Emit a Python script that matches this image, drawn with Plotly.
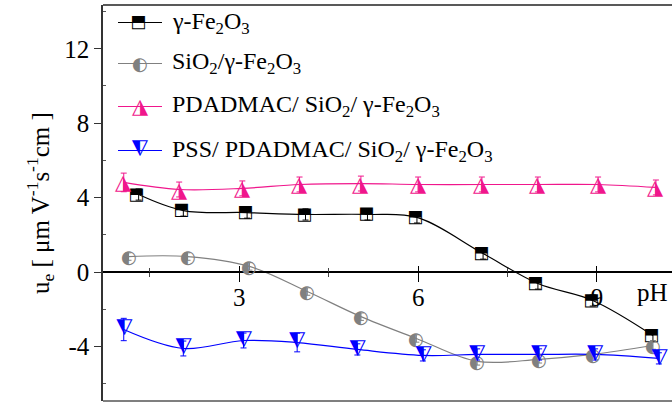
import plotly.graph_objects as go

# ---------------- data ----------------
series_names = ["γ-Fe<sub>2</sub>O<sub>3</sub>",
                "SiO<sub>2</sub>/γ-Fe<sub>2</sub>O<sub>3</sub>",
                "PDADMAC/ SiO<sub>2</sub>/ γ-Fe<sub>2</sub>O<sub>3</sub>",
                "PSS/ PDADMAC/ SiO<sub>2</sub>/ γ-Fe<sub>2</sub>O<sub>3</sub>"]

ph_fe = [1.31, 2.06, 3.13, 4.11, 5.15, 5.98, 7.09, 8.01, 8.93, 9.94]
ue_fe = [4.17, 3.31, 3.20, 3.10, 3.10, 2.94, 1.00, -0.61, -1.52, -3.40]
err_fe = [0.3, 0.3, 0.3, 0.3, 0.3, 0.3, 0.3, 0.3, 0.3, 0.3]

ph_si = [1.14, 2.13, 3.17, 4.14, 5.04, 5.97, 6.99, 8.03, 8.93, 9.94]
ue_si = [0.84, 0.84, 0.31, -1.04, -2.39, -3.56, -4.79, -4.68, -4.42, -3.94]
err_si = [0.2, 0.2, 0.2, 0.2, 0.2, 0.2, 0.2, 0.2, 0.2, 0.2]

ph_pd = [1.06, 1.99, 3.05, 4.01, 5.04, 6.00, 7.07, 8.01, 9.02, 9.99]
ue_pd = [4.82, 4.44, 4.50, 4.71, 4.76, 4.71, 4.71, 4.71, 4.71, 4.55]
err_pd = [0.5, 0.4, 0.4, 0.4, 0.4, 0.4, 0.4, 0.4, 0.4, 0.4]

ph_ps = [1.06, 2.06, 3.07, 3.97, 4.98, 6.08, 6.99, 8.03, 8.97, 10.04]
ue_ps = [-3.08, -4.10, -3.67, -3.78, -4.15, -4.47, -4.42, -4.42, -4.42, -4.63]
err_ps = [0.6, 0.4, 0.4, 0.5, 0.3, 0.3, 0.3, 0.3, 0.3, 0.3]

x_major = [3, 6, 9]
x_minor = [1.5, 4.5, 7.5]
y_major = [-4, 0, 4, 8, 12]
y_major_text = ["-4", "0", "4", "8", "12"]
y_minor = [-6, -2, 2, 6, 10, 14]

X_RANGE = [0.712, 10.26]
Y_RANGE = [-6.92, 14.35]

# ---------------- styles ----------------
colors = ["#000000", "#808080", "#F0168C", "#0000FF"]
glyphs = ["◧", "◐", "◮", "◮"]
angles = [90, 0, 0, 180]
gsize = [17, 18, 21, 21]
serif = "Liberation Serif"

data = [(ph_fe, ue_fe, err_fe), (ph_si, ue_si, err_si),
        (ph_pd, ue_pd, err_pd), (ph_ps, ue_ps, err_ps)]

fig = go.Figure()
annotations = []
for i, (xs, ys, es) in enumerate(data):
    fig.add_trace(go.Scatter(
        x=xs, y=ys, mode="lines", line=dict(color=colors[i], width=1.2, shape="spline"),
        error_y=dict(type="data", array=es, color=colors[i], thickness=1, width=3),
        showlegend=False, hoverinfo="skip"))
    for xv, yv in zip(xs, ys):
        annotations.append(dict(x=xv, y=yv, xref="x", yref="y", text=glyphs[i],
                                showarrow=False, textangle=angles[i],
                                font=dict(family="DejaVu Sans", size=gsize[i], color=colors[i]),
                                xanchor="center", yanchor="middle"))

# dummy trace for overlay axis (crossing ticks)
fig.add_trace(go.Scatter(x=[None], y=[None], xaxis="x2", showlegend=False))

# ---------------- manual legend ----------------
H = 396.0
W = 569.0
row_px = [23, 64, 107, 151]
shapes = []
for i, ry in enumerate(row_px):
    py = (401.5 - ry) / H
    shapes.append(dict(type="line", xref="paper", yref="paper",
                       x0=(118 - 103) / W, x1=(162 - 103) / W, y0=py, y1=py,
                       line=dict(color=colors[i], width=1.2)))
    annotations.append(dict(x=(140 - 103) / W, y=py, xref="paper", yref="paper",
                            text=glyphs[i], showarrow=False, textangle=angles[i],
                            font=dict(family="DejaVu Sans", size=gsize[i], color=colors[i]),
                            xanchor="center", yanchor="middle"))
    annotations.append(dict(x=(170 - 103) / W, y=py, xref="paper", yref="paper",
                            text=series_names[i], showarrow=False,
                            font=dict(family=serif, size=24, color="black"),
                            xanchor="left", yanchor="middle"))

# frame lines (top & bottom)
shapes.append(dict(type="line", xref="paper", yref="paper", x0=0, x1=1, y0=1, y1=1,
                   line=dict(color="#222", width=1.5)))
shapes.append(dict(type="line", xref="paper", yref="paper", x0=0, x1=1, y0=0, y1=0,
                   line=dict(color="#555", width=1.5)))

# axis title & pH label
annotations.append(dict(x=(40 - 103) / W, y=0.5, xref="paper", yref="paper",
                        text="u<sub>e</sub> [ μm V<sup>-1</sup>s<sup>-1</sup>cm ]",
                        textangle=-90, showarrow=False,
                        font=dict(family=serif, size=25, color="black"),
                        xanchor="center", yanchor="middle"))
annotations.append(dict(x=(652 - 103) / W, y=(401.5 - 293) / H, xref="paper", yref="paper",
                        text="pH", showarrow=False,
                        font=dict(family=serif, size=25, color="black"),
                        xanchor="center", yanchor="middle"))

xpos = (0 - Y_RANGE[0]) / (Y_RANGE[1] - Y_RANGE[0])

fig.update_layout(
    width=672, height=403,
    margin=dict(l=103, r=0, t=5, b=2),
    paper_bgcolor="white", plot_bgcolor="white",
    showlegend=False,
    xaxis=dict(range=X_RANGE, anchor="free", position=xpos,
               showline=True, linecolor="black", linewidth=2,
               tickmode="array", tickvals=x_major, ticks="outside", ticklen=9,
               tickwidth=1.2, tickcolor="black", ticklabelstandoff=-6,
               minor=dict(tickmode="array", tickvals=x_minor, ticks="outside",
                          ticklen=4, tickwidth=1, tickcolor="#444"),
               tickfont=dict(family=serif, size=25, color="black"),
               showgrid=False, zeroline=False),
    xaxis2=dict(range=X_RANGE, overlaying="x", anchor="free", position=xpos,
                showline=False, tickmode="array", tickvals=x_major, ticks="inside",
                ticklen=6, tickwidth=1.2, tickcolor="black",
                minor=dict(tickmode="array", tickvals=x_minor, ticks="inside",
                           ticklen=4, tickwidth=1, tickcolor="#444"),
                showticklabels=False, showgrid=False, zeroline=False),
    yaxis=dict(range=Y_RANGE, showline=True, linecolor="#333", linewidth=1.5,
               tickmode="array", tickvals=y_major, ticktext=y_major_text,
               ticks="outside", ticklen=7,
               tickwidth=1.2, tickcolor="#333",
               minor=dict(tickmode="array", tickvals=y_minor, ticks="inside",
                          ticklen=3, tickwidth=1, tickcolor="#555"),
               tickfont=dict(family=serif, size=25, color="black"),
               showgrid=False, zeroline=False),
    shapes=shapes,
    annotations=annotations,
)

fig.write_html("out.html", config={"displayModeBar": False},
               post_script="document.body.style.margin='0';document.body.style.padding='0';")
